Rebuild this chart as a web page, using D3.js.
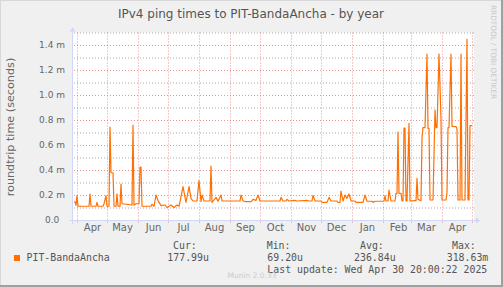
<!DOCTYPE html>
<html>
<head>
<meta charset="utf-8">
<script src="https://cdn.jsdelivr.net/npm/d3@7"></script>
<style>
body { margin: 0; background: #f0f0f0; }
svg { display: block; }
text { font-family: "DejaVu Sans", sans-serif; }
.mono { font-family: "DejaVu Sans Mono", monospace; white-space: pre; }
</style>
</head>
<body>
<svg id="chart" width="503" height="287"></svg>
<script>
// roundtrip time in ms (the "m" on the axis), by day offset from 2024-03-29
var dayNum = [0, 1, 2, 3, 4, 15, 16, 17, 22, 23, 24, 29, 30, 32, 33, 35, 36, 37, 39, 40,
  42, 43, 44, 46, 47, 48, 58, 59, 60, 62, 65, 66, 67, 68, 77, 78, 80, 82, 84, 87,
  91, 93, 97, 100, 103, 105, 106, 109, 112, 115, 117, 119, 123, 125, 127, 128, 130, 136, 137, 138,
  142, 144, 147, 148, 166, 167, 169, 172, 177, 179, 182, 184, 186, 206, 207, 209, 212, 213, 215, 221,
  223, 233, 235, 238, 239, 241, 247, 248, 253, 255, 257, 263, 264, 266, 267, 269, 271, 273, 275, 277,
  281, 282, 289, 291, 293, 298, 299, 301, 310, 311, 312, 314, 315, 317, 321, 322, 323, 324, 325, 327,
  328, 329, 330, 331, 332, 333, 335, 336, 341, 342, 343, 344, 347, 348, 349, 351, 353, 354, 355, 356,
  359, 361, 362, 363, 365, 367, 368, 372, 373, 374, 375, 377, 378, 382, 383, 384, 386, 387, 388, 391,
  393, 394, 395, 396, 398];
var rtt = [0.146, 0.146, 0.117, 0.195, 0.11, 0.11, 0.208, 0.11, 0.11, 0.14, 0.11, 0.11, 0.13, 0.195, 0.11, 0.11, 0.744, 0.378, 0.378, 0.11,
  0.11, 0.21, 0.11, 0.11, 0.288, 0.13, 0.12, 0.76, 0.12, 0.13, 0.13, 0.424, 0.424, 0.11, 0.11, 0.125, 0.11, 0.2, 0.155, 0.115,
  0.12, 0.1, 0.12, 0.1, 0.12, 0.11, 0.147, 0.267, 0.14, 0.267, 0.173, 0.152, 0.152, 0.315, 0.147, 0.2, 0.152, 0.152, 0.432, 0.14,
  0.181, 0.15, 0.2, 0.152, 0.152, 0.2, 0.152, 0.147, 0.147, 0.165, 0.157, 0.2, 0.152, 0.152, 0.181, 0.152, 0.152, 0.165, 0.152, 0.157,
  0.152, 0.157, 0.152, 0.152, 0.197, 0.152, 0.152, 0.141, 0.141, 0.181, 0.152, 0.152, 0.14, 0.14, 0.232, 0.152, 0.2, 0.173, 0.208, 0.152,
  0.152, 0.141, 0.141, 0.2, 0.15, 0.15, 0.141, 0.15, 0.15, 0.195, 0.152, 0.152, 0.24, 0.152, 0.152, 0.213, 0.213, 0.704, 0.213, 0.213,
  0.152, 0.152, 0.736, 0.736, 0.152, 0.152, 0.773, 0.152, 0.155, 0.155, 0.333, 0.165, 0.155, 0.659, 0.739, 0.739, 1.328, 0.733, 0.733, 0.16,
  0.16, 0.88, 0.739, 0.739, 1.328, 0.805, 0.16, 0.16, 0.221, 0.739, 0.739, 1.328, 0.749, 0.747, 0.73, 0.16, 0.16, 1.328, 0.16, 0.16,
  1.445, 0.16, 0.16, 0.755, 0.755];

var yMajor = [0.2, 0.4, 0.6, 0.8, 1.0, 1.2, 1.4];
var yMinor = [0.1, 0.3, 0.5, 0.7, 0.9, 1.1, 1.3, 1.5];
var yLabelVals = [0, 0.2, 0.4, 0.6, 0.8, 1.0, 1.2, 1.4];
var yLabels = ["0.0\u00a0\u00a0", "0.2 m", "0.4 m", "0.6 m", "0.8 m", "1.0 m", "1.2 m", "1.4 m"];

var seriesName = "PIT-BandaAncha";
var legendHeads = ["Cur:", "Min:", "Avg:", "Max:"];
var legendVals = ["177.99u", "69.20u", "236.84u", "318.63m"];
var lastUpdate = "Last update: Wed Apr 30 20:00:22 2025";

var svg = d3.select("#chart");
var W = 503, H = 287;
var pLeft = 74, pRight = 474, pTop = 32.5, pBottom = 220;
var lineColor = "#ff7000";

// frame + canvas
svg.append("rect").attr("width", W).attr("height", H).attr("fill", "#f0f0f0");
svg.append("rect").attr("x", W - 2).attr("y", 0).attr("width", 2).attr("height", H).attr("fill", "#a0a0a0");
svg.append("rect").attr("x", 0).attr("y", H - 2).attr("width", W).attr("height", 2).attr("fill", "#a0a0a0");
svg.append("rect").attr("x", 0).attr("y", 0).attr("width", W - 2).attr("height", 1).attr("fill", "#d8d8d8");
svg.append("rect").attr("x", 0).attr("y", 0).attr("width", 1).attr("height", H - 2).attr("fill", "#d8d8d8");
svg.append("rect").attr("x", pLeft - 1).attr("y", pTop).attr("width", pRight - pLeft + 1).attr("height", pBottom - pTop).attr("fill", "#fff");

var start = new Date(Date.UTC(2024, 2, 29));
var end = new Date(Date.UTC(2025, 4, 3));
var x = d3.scaleUtc().domain([start, end]).range([pLeft, pRight]);
var y = d3.scaleLinear().domain([0, 1.5]).range([pBottom, pTop]);
var DAY = 86400000;

var months = d3.utcMonth.range(d3.utcMonth.ceil(start), end);
var labelDates = d3.utcMonth.range(d3.utcMonth.floor(start), end)
  .map(function(d) { return new Date(d.getTime() + 15 * DAY); })
  .filter(function(d) { return d > start && d < end; });

// horizontal grid
svg.append("g").attr("class", "gmin").attr("transform", "translate(" + pLeft + ",0)")
  .call(d3.axisLeft(y).tickValues(yMinor).tickSize(-(pRight - pLeft)).tickFormat(""));
svg.append("g").attr("class", "gmaj").attr("transform", "translate(" + pLeft + ",0)")
  .call(d3.axisLeft(y).tickValues(yMajor).tickSize(-(pRight - pLeft)).tickFormat(""));
// vertical month grid
svg.append("g").attr("class", "gmaj").attr("transform", "translate(0," + pTop + ")")
  .call(d3.axisBottom(x).tickValues(months).tickSize(pBottom - pTop + 3).tickFormat(""));

svg.selectAll(".gmin line").attr("stroke", "rgba(143,143,143,0.75)").attr("stroke-dasharray", "1,2");
svg.selectAll(".gmaj line").attr("stroke", "rgba(222,79,79,0.6)").attr("stroke-dasharray", "1,2");
svg.selectAll(".gmin path, .gmaj path").remove();

// y labels
var yl = svg.append("g").attr("transform", "translate(" + (pLeft - 1) + ",0)")
  .call(d3.axisLeft(y).tickValues(yLabelVals).tickSize(0).tickPadding(8)
    .tickFormat(function(d, i) { return yLabels[i]; }));
yl.select("path").remove();
yl.selectAll("text").attr("font-size", "9px").attr("fill", "#666").attr("font-family", "DejaVu Sans").style("white-space", "pre");

// x labels
var xl = svg.append("g").attr("transform", "translate(0," + pBottom + ")")
  .call(d3.axisBottom(x).tickValues(labelDates).tickSize(0).tickPadding(4).tickFormat(d3.utcFormat("%b")));
xl.select("path").remove();
xl.selectAll("text").attr("font-size", "10px").attr("fill", "#666").attr("font-family", "DejaVu Sans");

// axes lines with arrows
var axisCol = "#cfd6f8";
svg.append("line").attr("x1", pLeft - 4).attr("x2", pRight + 2).attr("y1", pBottom + 0.5).attr("y2", pBottom + 0.5).attr("stroke", axisCol);
svg.append("path").attr("d", "M" + (pRight + 2) + "," + (pBottom - 2.5) + "L" + (pRight + 6) + "," + (pBottom + 0.5) + "L" + (pRight + 2) + "," + (pBottom + 3.5) + "Z").attr("fill", axisCol);
svg.append("line").attr("x1", pLeft - 1.5).attr("x2", pLeft - 1.5).attr("y1", pBottom + 4).attr("y2", pTop - 1).attr("stroke", axisCol);
svg.append("path").attr("d", "M" + (pLeft - 4.5) + "," + (pTop - 1) + "L" + (pLeft - 1.5) + "," + (pTop - 5) + "L" + (pLeft + 1.5) + "," + (pTop - 1) + "Z").attr("fill", axisCol);

// series
var pts = dayNum.map(function(d, i) { return [new Date(start.getTime() + d * DAY), rtt[i]]; });
svg.append("path").datum(pts)
  .attr("fill", "none").attr("stroke", lineColor).attr("stroke-width", 1.2).attr("stroke-linejoin", "round")
  .attr("d", d3.line().x(function(p) { return x(p[0]); }).y(function(p) { return y(p[1]); }));

// title and side texts
svg.append("text").attr("x", 251).attr("y", 17.5).attr("text-anchor", "middle")
  .attr("font-size", "12px").attr("fill", "#555").text("IPv4 ping times to PIT-BandaAncha - by year");
svg.append("text").attr("transform", "translate(14,127) rotate(-90)").attr("text-anchor", "middle")
  .attr("font-size", "11.2px").attr("fill", "#666").text("roundtrip time (seconds)");
svg.append("text").attr("transform", "translate(491,5) rotate(90)")
  .attr("font-size", "7.3px").attr("fill", "#c8c8c8").text("RRDTOOL / TOBI OETIKER");

// legend
svg.append("rect").attr("x", 14).attr("y", 255).attr("width", 6).attr("height", 6).attr("fill", lineColor);
svg.append("text").attr("class", "mono").attr("x", 26.5).attr("y", 260.5).attr("font-size", "9.9px").attr("fill", "#555").text(seriesName);
var headX = [173, 266.7, 360, 452];
var valX = [167.3, 267.3, 354, 446.7];
legendHeads.forEach(function(t, i) {
  svg.append("text").attr("class", "mono").attr("x", headX[i]).attr("y", 248.5).attr("font-size", "9.9px").attr("fill", "#555").text(t);
});
legendVals.forEach(function(t, i) {
  svg.append("text").attr("class", "mono").attr("x", valX[i]).attr("y", 260.5).attr("font-size", "9.9px").attr("fill", "#555").text(t);
});
svg.append("text").attr("class", "mono").attr("x", 267.3).attr("y", 272.5).attr("font-size", "9.9px").attr("fill", "#555").text(lastUpdate);
svg.append("text").attr("x", 252).attr("y", 278).attr("text-anchor", "middle")
  .attr("font-size", "7.5px").attr("fill", "#cccccc").text("Munin 2.0.33");
</script>
</body>
</html>
